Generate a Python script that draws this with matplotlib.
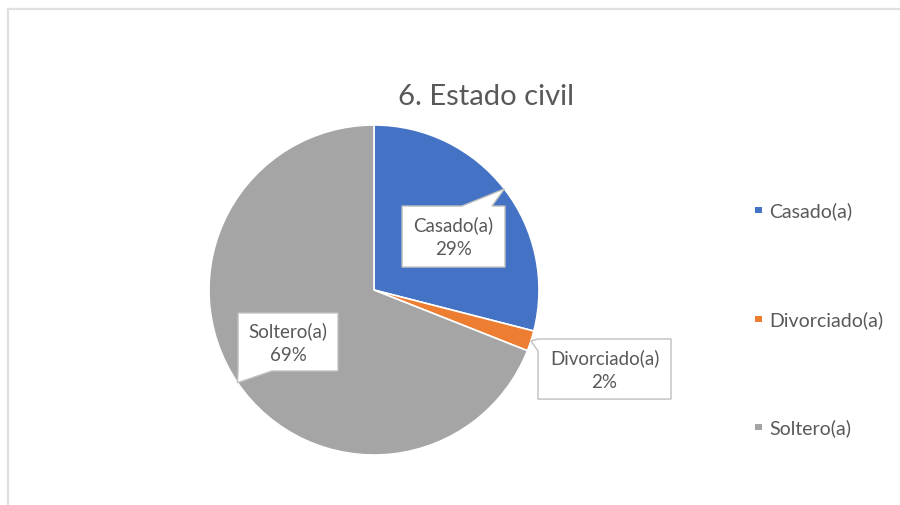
import numpy as np
import matplotlib
matplotlib.use("Agg")
import matplotlib.pyplot as plt
from matplotlib.patches import Polygon, Rectangle
from matplotlib.lines import Line2D

plt.rcParams['font.family'] = ['Lato', 'DejaVu Sans']

# Datos
categorias = ["Casado(a)", "Divorciado(a)", "Soltero(a)"]
porcentajes = [29, 2, 69]
colores = ["#4472C4", "#ED7D31", "#A5A5A5"]

# Cajas de etiquetas (centro x, centro y, ancho, alto, lado del puntero, base del puntero)
cajas = [
    (0.482, 0.324, 0.624, 0.370, "top", (0.533, 0.715)),
    (1.397, -0.479, 0.806, 0.364, "left", (-0.297, -0.37)),
    (-0.521, -0.315, 0.606, 0.352, "bottom", (-0.824, -0.618)),
]

gris_texto = "#595959"

fig = plt.figure(figsize=(9, 5.06), dpi=100)

# Marco del gráfico (solo arriba e izquierda visibles)
fig.add_artist(Line2D([8 / 900, 1], [1 - 10 / 506, 1 - 10 / 506], color="#e0e0e0", lw=1.6,
                      transform=fig.transFigure))
fig.add_artist(Line2D([8 / 900, 8 / 900], [0, 1 - 10 / 506], color="#e0e0e0", lw=1.6,
                      transform=fig.transFigure))

cx, cy, r = 374, 291, 165
ax = fig.add_axes([(cx - r) / 900, (506 - cy - r) / 506, 2 * r / 900, 2 * r / 506])
wedges, _ = ax.pie(porcentajes, colors=colores, startangle=90, counterclock=False,
                   radius=1, wedgeprops=dict(edgecolor="white", linewidth=1.2))
ax.set_xlim(-1, 1)
ax.set_ylim(-1, 1)
ax.set_aspect("auto")
ax.axis("off")

# Etiquetas tipo globo
for w, cat, pct, caja in zip(wedges, categorias, porcentajes, cajas):
    bx, by, bw, bh, lado, base = caja
    ang = np.deg2rad((w.theta1 + w.theta2) / 2)
    tip = (np.cos(ang), np.sin(ang))
    L, R, T, B = bx - bw / 2, bx + bw / 2, by + bh / 2, by - bh / 2
    if lado == "top":
        pts = [(L, T), (base[0], T), tip, (base[1], T), (R, T), (R, B), (L, B)]
    elif lado == "left":
        pts = [(L, T), (R, T), (R, B), (L, B), (L, base[1]), tip, (L, base[0])]
    else:
        pts = [(L, T), (R, T), (R, B), (base[1], B), tip, (base[0], B), (L, B)]
    ax.add_patch(Polygon(pts, closed=True, facecolor="white", edgecolor="#bfbfbf",
                         linewidth=1.0, clip_on=False, zorder=5))
    ax.text(bx, by, f"{cat}\n{pct}%", ha="center", va="center", fontsize=13.5,
            color=gris_texto, linespacing=1.5, zorder=6, clip_on=False)

# Título
fig.text(486 / 900, 1 - 97 / 506, "6. Estado civil", ha="center", va="center",
         fontsize=21, color=gris_texto)

# Leyenda
ley_y = [211, 320, 428]
for cat, col, yy in zip(categorias, colores, ley_y):
    fig.add_artist(Rectangle((755 / 900, 1 - (yy + 3) / 506), 6.5 / 900, 6.5 / 506,
                             facecolor=col, edgecolor="none", transform=fig.transFigure))
    fig.text(769 / 900, 1 - yy / 506, cat, ha="left", va="center", fontsize=14,
             color=gris_texto)

fig.savefig("out.png", dpi=100, facecolor="white")
